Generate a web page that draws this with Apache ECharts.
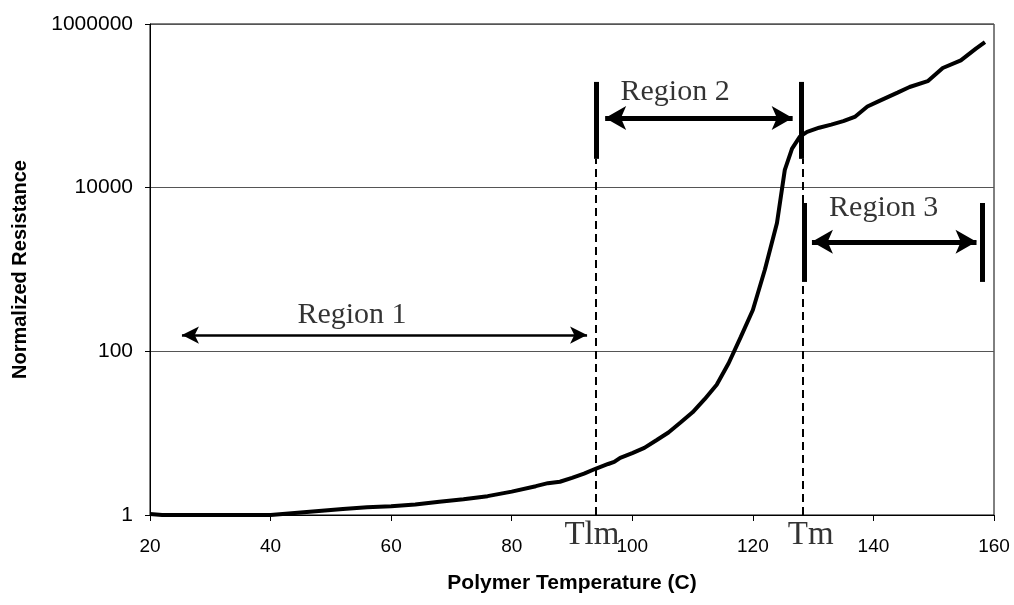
<!DOCTYPE html>
<html><head><meta charset="utf-8">
<script src="https://cdn.jsdelivr.net/npm/echarts@6/dist/echarts.min.js"></script>
<style>html,body{margin:0;padding:0;background:#fff}#c{width:1014px;height:605px}</style>
</head><body><div id="c"></div>
<script>
// ---- data ----
const temperature = [20, 22, 30, 40, 44, 48, 52, 56, 60, 64, 68, 72, 76, 80, 84, 86, 88, 90, 92, 94, 96, 97, 98, 100, 102, 104, 106, 108, 110, 112, 114, 116, 118, 120, 122, 124, 125.3, 126.5, 127.8, 129, 131, 133, 135, 137, 139, 141, 144, 146, 149, 151.5, 154.5, 157, 158.5];
const resistance  = [1.03, 1.0, 1.0, 1.0, 1.06, 1.12, 1.18, 1.24, 1.28, 1.34, 1.45, 1.56, 1.70, 1.93, 2.25, 2.45, 2.55, 2.85, 3.2, 3.7, 4.2, 4.45, 5.0, 5.7, 6.6, 8.2, 10.2, 13.5, 18, 26, 39, 72, 150, 320, 1000, 3700, 16500, 30000, 42000, 48000, 54000, 59000, 65000, 74000, 98000, 115000, 145000, 170000, 200000, 290000, 360000, 500000, 600000];
const xTicks = [20, 40, 60, 80, 100, 120, 140, 160];
const yTicks = [1, 100, 10000, 1000000];
const tempLabels = ['Tlm', 'Tm'];
const tempMarks = [94, 128.3];          // dashed reference temperatures
const tempLabelX = [93.3, 129.6];
const dashTop = [22500, 22500];
const regionNames = ['Region 1', 'Region 2', 'Region 3'];
const regionFrom = [25.3, 95.5, 129.8];
const regionTo = [92.5, 126.6, 157.1];
const regionLevel = [158, 71000, 2180];
const regionTextX = [53.5, 107.1, 141.7];
const regionTextY = [279, 148000, 5650];
const barX = [94.1, 128.1, 128.6, 158.1];
const barLow = [22500, 22500, 705, 705];
const barHigh = [196000, 196000, 6500, 6500];

// ---- chart ----
const chart = echarts.init(document.getElementById('c'), null, {renderer: 'canvas'});
const sans = 'Liberation Sans, Arial, sans-serif';
const serif = 'Liberation Serif, Times New Roman, serif';

const arrowLines = regionNames.map((n, i) => {
  const sz = i === 0 ? [13, 17] : [18, 21];
  return [
    {coord: [regionFrom[i], regionLevel[i]], lineStyle: {width: i === 0 ? 2.5 : 5, color: '#000', type: 'solid'}, symbolSize: sz},
    {coord: [regionTo[i], regionLevel[i]], symbolSize: sz}
  ];
});
const barLines = barX.map((x, i) => ([
  {coord: [x, barLow[i]], lineStyle: {width: 5, color: '#000', type: 'solid'}, symbol: 'none'},
  {coord: [x, barHigh[i]], symbol: 'none'}
]));
const dashLines = tempMarks.map((x, i) => ([
  {coord: [x, 1], lineStyle: {width: 2, color: '#000', type: [8, 5]}, symbol: 'none'},
  {coord: [x, dashTop[i]], symbol: 'none'}
]));

const textLabel = {fontFamily: serif, color: '#000', textBorderWidth: 0, textBorderColor: 'transparent', textShadowBlur: 0};

chart.setOption({
  animation: false,
  backgroundColor: '#fff',
  grid: {left: 150, right: 20, top: 24, bottom: 90, show: true, borderColor: '#000', borderWidth: 1, backgroundColor: 'transparent'},
  xAxis: {
    type: 'value', min: xTicks[0], max: xTicks[xTicks.length - 1], interval: 20,
    name: 'Polymer Temperature (C)', nameLocation: 'middle', nameGap: 58,
    nameTextStyle: {fontFamily: sans, fontWeight: 'bold', fontSize: 21, color: '#000'},
    axisLine: {lineStyle: {color: '#000', width: 1}},
    axisTick: {inside: false, length: 6, lineStyle: {color: '#000'}},
    axisLabel: {fontFamily: sans, fontSize: 19, color: '#000', margin: 22},
    splitLine: {show: false}
  },
  yAxis: {
    type: 'log', logBase: 100, min: yTicks[0], max: yTicks[yTicks.length - 1],
    name: 'Normalized Resistance', nameLocation: 'middle', nameGap: 120, nameRotate: 90,
    nameTextStyle: {fontFamily: sans, fontWeight: 'bold', fontSize: 20, color: '#000'},
    axisLine: {show: true, lineStyle: {color: '#000', width: 1}},
    axisTick: {show: true, inside: false, length: 5, lineStyle: {color: '#000'}},
    axisLabel: {fontFamily: sans, fontSize: 21, color: '#000', margin: 17,
      formatter: v => String(Math.round(v))},
    splitLine: {show: true, lineStyle: {color: '#555', width: 1}},
    minorTick: {show: false}
  },
  series: [
    {
      type: 'line', data: temperature.map((t, i) => [t, resistance[i]]),
      showSymbol: false, symbol: 'none', smooth: false,
      lineStyle: {color: '#000', width: 4}, z: 5,
      markLine: {silent: true, symbol: ['arrow', 'arrow'], label: {show: false}, emphasis: {disabled: true},
        data: arrowLines.concat(barLines).concat(dashLines)}
    },
    {
      type: 'scatter', symbolSize: 1, itemStyle: {color: 'transparent'}, clip: false, silent: true,
      data: regionNames.map((n, i) => [regionTextX[i], regionTextY[i], n]),
      label: Object.assign({show: true, position: 'inside', formatter: p => p.data[2], fontSize: 30}, textLabel)
    },
    {
      type: 'scatter', symbolSize: 1, itemStyle: {color: 'transparent'}, clip: false, silent: true,
      data: tempLabels.map((n, i) => [tempLabelX[i], 1, n]),
      label: Object.assign({show: true, position: 'bottom', distance: 3, formatter: p => p.data[2], fontSize: 33}, textLabel)
    }
  ]
});
</script>
</body></html>
